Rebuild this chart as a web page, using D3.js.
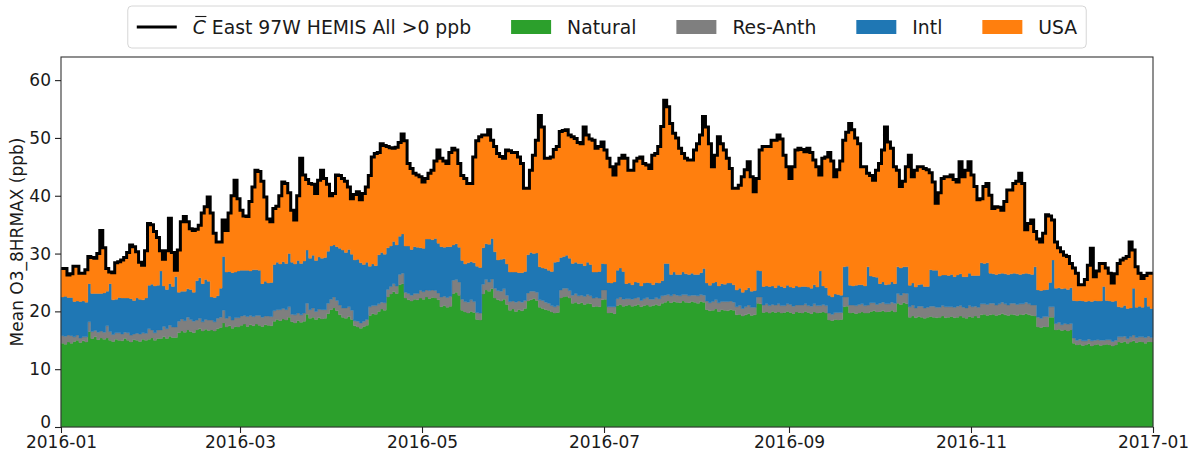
<!DOCTYPE html>
<html>
<head>
<meta charset="utf-8">
<script src="https://cdn.jsdelivr.net/npm/d3@7"></script>
<style>
  body { margin: 0; background: #fff; }
  svg { display: block; }
  text { font-family: "DejaVu Sans", sans-serif; fill: #1a1a1a; }
</style>
</head>
<body>
<svg id="chart" width="1194" height="453"></svg>
<script>
// Daily mean O3 8-hr max for 2016 (366 days starting 2016-01-01), ppb
const startDay = "2016-01-01";
const endDay = "2017-01-01";

// Total modelled concentration (black line)
const total = [
27.4,27.4,26.3,26.5,27.8,27.8,26.6,26.6,27.2,29.5,
29.3,29.2,30.0,34.0,31.0,27.4,26.8,26.7,28.4,28.6,
28.9,29.3,30.2,31.5,31.2,30.3,28.5,28.0,30.5,35.2,
35.0,33.8,32.8,30.5,29.0,30.5,36.1,30.2,27.1,30.6,
35.5,36.4,35.5,34.3,34.0,34.2,34.9,37.0,38.1,39.8,
37.0,33.5,32.0,32.0,35.8,34.0,37.0,40.0,42.7,39.5,
37.5,36.5,36.4,39.0,41.5,44.4,44.2,42.5,39.8,36.0,
35.5,37.8,38.2,40.0,42.4,42.1,40.5,37.5,35.8,40.0,
46.5,43.6,42.8,42.1,42.0,40.4,42.7,44.4,43.0,42.0,
40.0,40.4,43.6,43.5,43.0,42.5,41.5,39.5,40.2,40.7,
39.3,40.4,41.5,43.5,46.7,47.3,47.5,49.0,48.7,48.5,
48.3,48.2,48.4,49.2,50.7,49.5,45.6,44.7,43.9,43.6,
43.3,42.4,43.0,43.9,44.4,46.0,47.9,46.5,46.0,45.6,
47.5,48.2,47.9,45.6,43.5,43.0,42.1,42.1,46.7,49.5,
50.2,50.5,50.5,51.4,49.6,48.5,47.3,46.8,46.5,47.9,
47.8,47.5,47.5,46.7,45.6,41.3,41.3,44.4,47.0,49.6,
53.9,51.9,46.5,46.5,46.7,48.0,48.5,51.1,51.3,51.4,
50.5,50.2,49.9,49.2,49.0,51.9,50.5,49.8,49.6,48.2,
48.5,49.3,47.9,46.5,45.0,43.6,45.5,46.5,47.0,46.5,
44.4,44.4,46.0,46.5,46.7,45.6,45.3,44.7,47.0,47.3,
48.5,52.0,56.5,55.4,52.5,50.8,50.0,48.2,47.3,46.5,
46.2,46.2,47.9,49.0,50.5,53.7,51.9,49.0,45.0,47.0,
50.2,49.0,47.9,46.5,44.7,41.3,41.3,41.8,43.3,44.5,
45.9,43.3,40.7,43.0,47.9,48.5,48.5,48.5,49.6,49.6,
50.5,49.8,47.0,45.0,43.0,45.0,47.9,48.2,48.0,47.6,
48.2,47.5,46.2,45.0,43.6,46.5,46.7,47.5,46.0,43.3,
44.5,46.0,49.6,51.0,52.5,51.4,50.0,49.0,45.0,45.0,
43.9,43.5,42.7,44.4,45.6,47.9,51.9,49.3,48.2,45.0,
44.4,41.6,42.5,45.0,47.0,43.3,44.4,45.0,45.0,44.7,
44.5,44.0,42.4,38.7,40.5,43.0,43.3,43.3,43.6,42.8,
42.4,45.9,43.3,44.4,45.9,43.6,41.6,39.3,39.5,41.6,
42.1,40.1,37.8,38.1,38.0,37.5,39.0,41.0,41.0,42.1,
42.5,43.9,42.1,34.1,35.2,35.8,33.8,32.5,32.0,33.5,
36.7,36.5,35.8,32.0,31.0,30.3,29.7,29.5,28.3,27.5,
26.6,24.6,24.6,25.5,28.0,30.9,26.0,27.0,28.3,28.3,
27.5,26.6,24.9,26.5,28.3,28.9,29.2,29.5,32.0,30.6,
27.7,26.6,25.7,26.2,26.6,26.6
];

// Natural contribution
const natural = [
14.5,14.3,14.7,14.5,14.8,15.0,14.6,14.9,14.7,16.5,
15.3,15.6,15.1,15.4,15.2,15.4,15.0,14.8,15.2,15.0,
14.9,15.3,15.0,14.7,15.1,15.0,14.8,15.2,15.0,15.2,
15.4,15.0,15.3,15.3,15.6,15.3,15.7,15.5,15.5,16.3,
16.6,16.4,16.8,16.5,16.3,16.8,17.0,16.6,16.9,16.7,
16.8,16.6,17.0,17.2,18.0,17.3,17.5,17.1,17.4,17.3,
17.6,17.8,17.4,17.7,17.5,17.8,17.6,17.4,17.7,17.6,
17.5,18.3,18.6,18.4,18.7,18.5,19.0,18.2,18.0,18.4,
18.1,18.3,19.5,18.8,19.0,18.6,18.9,18.7,18.8,19.6,
20.3,20.6,20.1,19.4,19.0,18.8,19.1,18.6,17.5,17.3,
17.1,17.4,17.6,19.3,19.6,19.5,20.0,20.4,20.2,22.5,
23.0,23.4,23.1,24.6,24.8,22.3,22.0,21.8,22.1,22.0,
22.3,22.1,22.5,22.2,22.4,22.3,22.0,20.8,21.0,20.7,
20.9,23.1,23.3,22.8,20.2,19.9,19.7,20.0,19.8,18.6,
18.5,23.0,23.7,23.5,23.9,22.3,22.0,21.8,22.1,21.2,
20.2,20.4,20.0,20.3,20.1,20.5,21.8,22.0,22.2,21.9,
20.7,20.5,20.3,20.2,19.9,19.7,19.8,22.3,22.5,22.6,
22.3,21.4,21.6,21.3,21.5,21.2,21.4,21.3,20.8,20.9,
20.8,22.0,22.1,19.7,19.8,19.6,21.0,21.2,20.9,21.0,
21.1,20.9,21.0,21.2,20.8,21.0,21.1,20.9,21.0,21.2,
21.0,21.4,21.6,21.8,21.5,21.7,21.6,21.5,21.8,21.6,
21.5,21.7,21.6,21.4,21.7,21.6,20.3,20.1,20.2,20.4,
20.0,20.3,20.2,20.1,20.3,20.2,19.4,19.5,19.2,19.4,
19.6,19.3,19.4,21.4,21.3,19.8,19.9,19.7,20.0,19.8,
19.9,19.7,19.8,20.0,19.8,19.6,19.9,19.8,19.7,20.0,
19.8,19.6,19.9,19.7,19.8,19.9,19.7,18.5,18.4,18.6,
18.5,18.6,20.8,20.9,19.7,19.8,19.6,19.7,19.9,19.7,
19.7,20.0,20.1,19.9,20.0,20.1,19.9,20.0,20.2,19.9,
21.4,21.2,21.5,21.3,19.0,19.2,18.9,19.1,19.0,18.8,
19.0,19.1,19.0,18.9,19.0,19.2,18.9,19.0,19.1,18.9,
19.0,19.2,19.0,18.8,19.1,19.0,19.2,18.9,19.4,19.5,
19.3,19.4,19.5,19.3,19.4,19.6,19.4,19.3,19.5,19.4,
19.3,19.5,19.4,19.6,19.4,19.3,19.2,17.3,17.2,17.4,
17.3,19.0,19.0,16.8,16.9,16.7,16.8,16.6,16.8,14.5,
14.2,14.3,14.1,14.2,14.4,14.0,14.2,14.3,14.1,14.2,
14.3,14.2,14.0,14.2,14.7,14.6,14.8,14.5,14.7,14.9,
14.6,14.8,14.7,14.5,14.8,14.7
];

// Residual anthropogenic contribution
const resAnth = [
1.3,1.4,1.2,1.3,0.8,0.9,0.8,0.7,0.9,1.7,
1.2,1.1,1.3,1.2,1.2,2.1,1.5,1.2,1.1,1.3,
1.2,1.1,1.3,1.2,1.0,1.2,1.3,1.1,1.2,1.8,
1.4,1.3,1.5,1.5,1.8,1.7,1.9,1.8,1.8,2.0,
2.1,2.0,2.2,2.1,2.0,1.7,1.8,1.6,1.7,1.8,
1.7,1.6,1.8,1.8,2.2,1.5,1.6,1.4,1.5,1.6,
1.6,1.5,1.7,1.6,1.6,1.5,1.7,1.6,1.5,1.6,
1.6,1.8,1.7,1.9,1.8,1.8,1.8,1.3,1.4,1.3,
1.3,1.4,1.9,1.5,1.6,1.4,1.5,1.6,1.5,1.8,
1.8,1.9,1.8,1.7,1.6,1.8,1.7,1.6,0.9,1.0,
0.9,0.9,1.0,1.5,1.4,1.5,1.3,1.2,1.3,1.3,
1.3,1.4,1.3,1.8,1.8,1.0,1.1,1.0,1.0,1.1,
1.3,1.3,1.2,1.4,1.3,1.3,1.2,1.7,1.6,1.7,
1.7,2.3,2.2,2.3,1.9,1.8,1.9,2.0,1.9,1.2,
1.2,1.7,1.8,1.6,1.7,1.7,1.6,1.7,1.8,1.6,
1.5,1.4,1.6,1.5,1.5,1.4,1.4,1.5,1.3,1.4,
1.3,1.4,1.3,1.2,1.1,1.1,1.2,1.4,1.5,1.4,
1.3,1.4,1.5,1.4,1.3,1.4,1.5,1.4,1.5,1.5,
1.5,1.7,1.6,1.1,1.0,1.2,1.2,1.3,1.2,1.2,
1.1,1.2,1.3,1.2,1.1,1.2,1.3,1.2,1.1,1.2,
1.2,1.3,1.2,1.1,1.2,1.3,1.2,1.2,1.1,1.3,
1.2,1.1,1.2,1.3,1.2,1.2,1.5,1.4,1.5,1.6,
1.5,1.4,1.5,1.6,1.5,1.4,1.4,1.5,1.3,1.4,
1.5,1.4,1.3,1.1,1.2,1.3,1.4,1.3,1.2,1.3,
1.4,1.3,1.2,1.3,1.4,1.3,1.2,1.3,1.4,1.3,
1.2,1.3,1.4,1.3,1.2,1.3,1.3,1.2,1.1,1.2,
1.3,1.2,1.7,1.6,1.4,1.3,1.4,1.5,1.4,1.3,
1.4,1.5,1.4,1.3,1.4,1.5,1.4,1.3,1.4,1.5,
1.7,1.6,1.7,1.8,1.8,1.9,1.7,1.8,1.9,1.8,
1.7,1.8,1.9,1.8,1.7,1.8,1.9,1.8,1.7,1.8,
1.9,1.8,1.7,1.8,1.9,1.8,1.7,1.8,1.9,1.8,
1.9,2.0,1.9,1.8,1.9,2.0,1.9,1.8,1.9,2.0,
1.9,1.8,1.9,2.0,1.9,1.8,1.9,1.7,1.6,1.7,
1.8,1.8,1.8,1.1,1.2,1.0,1.1,1.2,1.1,0.9,
0.8,0.9,0.8,0.7,0.8,0.9,0.8,0.8,0.9,0.8,
0.8,0.9,0.8,0.8,0.9,1.0,0.9,0.8,0.9,1.0,
0.9,0.8,0.9,1.0,0.9,0.8
];

// International contribution
const intl = [
6.7,6.9,6.5,6.6,6.1,5.9,6.3,6.2,6.0,6.6,
6.6,6.4,6.7,6.5,6.8,6.0,8.3,6.0,5.8,6.1,
6.2,5.9,6.0,6.3,5.8,6.1,6.0,5.7,6.1,7.5,
7.9,8.1,7.7,10.2,7.0,6.8,7.2,7.0,8.7,5.0,
4.8,5.1,4.9,5.2,5.0,6.8,7.0,6.6,6.9,6.7,
4.0,4.2,3.9,5.0,9.3,8.0,7.8,8.2,7.9,8.1,
7.9,7.8,8.0,7.7,8.1,7.9,7.8,5.8,6.0,5.7,
5.9,8.0,8.2,7.9,8.1,8.0,9.2,9.0,8.8,9.1,
8.9,9.0,9.2,8.9,9.1,8.8,9.0,8.9,9.0,9.0,
9.2,9.0,9.3,9.8,10.0,9.6,9.9,9.7,10.5,10.7,
10.4,9.8,9.9,7.0,7.2,6.9,8.5,8.6,8.4,7.2,
7.0,7.3,7.1,6.6,6.8,8.0,8.2,7.9,8.1,8.0,
7.4,7.5,8.8,8.9,8.7,9.0,8.6,8.7,8.5,8.8,
8.6,6.1,6.2,6.0,6.7,6.5,6.8,6.6,6.7,8.0,
7.9,6.3,6.2,6.5,7.0,6.3,5.3,5.5,5.2,5.4,
5.1,5.0,5.2,4.9,5.1,5.0,6.6,6.7,6.5,6.8,
5.7,5.6,5.8,5.7,5.9,7.7,7.6,5.6,5.5,5.7,
5.6,5.5,5.4,5.6,5.5,5.3,5.6,5.4,4.5,4.4,
4.6,4.6,4.5,4.2,4.1,4.3,4.9,5.0,4.8,2.6,
2.7,2.5,2.8,2.6,2.5,2.7,2.6,2.8,2.5,2.6,
2.7,2.6,5.5,5.4,3.7,3.8,3.6,3.7,3.9,3.6,
3.7,3.8,3.6,3.7,3.8,4.6,3.1,3.0,3.2,3.1,
2.9,3.1,3.0,3.2,3.1,3.0,2.9,3.0,2.8,2.9,
3.0,2.8,2.9,4.6,4.5,3.2,3.1,3.3,3.2,3.0,
3.2,3.3,3.1,3.2,3.0,3.2,3.3,3.1,3.2,3.0,
3.2,3.1,3.3,3.2,6.0,3.2,3.1,3.1,3.0,3.2,
3.1,3.0,5.2,5.3,3.4,3.3,3.5,3.4,3.3,3.4,
6.6,4.6,4.5,4.7,3.4,3.5,3.3,3.4,3.5,3.4,
4.6,4.7,4.5,4.6,3.7,3.8,3.6,3.7,3.8,3.7,
3.6,6.3,6.2,6.4,5.4,5.3,5.5,5.4,5.6,5.3,
5.4,5.5,5.3,5.4,5.6,5.4,5.3,5.5,7.1,7.0,
7.2,5.2,5.1,5.3,5.2,5.0,5.2,5.3,5.1,5.2,
5.3,5.1,5.2,5.0,5.2,5.3,6.6,4.7,4.8,4.6,
4.7,4.2,8.1,6.1,6.0,6.2,6.1,6.0,6.2,6.5,
6.8,6.7,6.9,6.8,6.6,6.8,6.9,6.7,6.8,9.3,
6.8,6.7,6.9,6.8,5.2,5.1,5.3,5.2,5.0,8.1,
5.2,5.3,5.1,6.9,5.2,5.0
];

const seriesNames = ["Natural", "Res-Anth", "Intl", "USA"];
const seriesColors = ["#2ca02c", "#7f7f7f", "#1f77b4", "#ff7f0e"];
const lineLabel = "East 97W HEMIS All >0 ppb";
const yLabel = "Mean O3_8HRMAX (ppb)";
const yTicks = [0, 10, 20, 30, 40, 50, 60];
const xTickLabels = ["2016-01", "2016-03", "2016-05", "2016-07", "2016-09", "2016-11", "2017-01"];

// ---- layout ----
const W = 1194, H = 453;
const margin = { left: 61, right: 41, top: 57, bottom: 26 };
const plotW = W - margin.left - margin.right;
const plotH = H - margin.top - margin.bottom;

const svg = d3.select("#chart");
const parseDay = d3.utcParse("%Y-%m-%d");
const parseMonth = d3.utcParse("%Y-%m");
const t0 = parseDay(startDay), t1 = parseDay(endDay);

// USA is what remains of the total after the other three sources
const rows = total.map((v, i) => ({
  date: d3.utcDay.offset(t0, i),
  total: v,
  "Natural": natural[i],
  "Res-Anth": resAnth[i],
  "Intl": intl[i],
  "USA": Math.max(0, v - natural[i] - resAnth[i] - intl[i])
}));
// closing step so the last day spans to the end of the axis
const last = rows[rows.length - 1];
const stepRows = rows.concat([Object.assign({}, last, { date: t1 })]);

const x = d3.scaleUtc().domain([t0, t1]).range([margin.left, margin.left + plotW]);
const y = d3.scaleLinear().domain([0, 64]).range([margin.top + plotH, margin.top]);

const stacked = d3.stack().keys(seriesNames)(stepRows);

const area = d3.area()
  .curve(d3.curveStepAfter)
  .x(d => x(d.data.date))
  .y0(d => y(d[0]))
  .y1(d => y(d[1]));

const plot = svg.append("g");
plot.selectAll("path.layer")
  .data(stacked)
  .join("path")
  .attr("class", "layer")
  .attr("fill", (d, i) => seriesColors[i])
  .attr("stroke", (d, i) => seriesColors[i])
  .attr("stroke-width", 0.4)
  .attr("d", area);

const line = d3.line()
  .curve(d3.curveStepAfter)
  .x(d => x(d.date))
  .y(d => y(d.total));

plot.append("path")
  .datum(stepRows)
  .attr("fill", "none")
  .attr("stroke", "#000")
  .attr("stroke-width", 3)
  .attr("stroke-linejoin", "miter")
  .attr("d", line);

// frame
svg.append("rect")
  .attr("x", margin.left).attr("y", margin.top)
  .attr("width", plotW).attr("height", plotH)
  .attr("fill", "none").attr("stroke", "#333").attr("stroke-width", 1.1);

// axes
const yAxis = svg.append("g")
  .attr("transform", `translate(${margin.left},0)`)
  .call(d3.axisLeft(y).tickValues(yTicks).tickSize(6).tickPadding(4).tickFormat(d3.format("d")));
const xAxis = svg.append("g")
  .attr("transform", `translate(0,${margin.top + plotH})`)
  .call(d3.axisBottom(x).tickValues(xTickLabels.map(parseMonth)).tickSize(6).tickPadding(3)
    .tickFormat(d3.utcFormat("%Y-%m")));
[yAxis, xAxis].forEach(g => {
  g.select(".domain").remove();
  g.selectAll(".tick line").attr("stroke", "#222").attr("stroke-width", 1.1);
  g.selectAll(".tick text").attr("font-size", 17).attr("fill", "#1a1a1a")
    .attr("font-family", '"DejaVu Sans", sans-serif');
});
// the bottom "0" sits just above the first date label
yAxis.selectAll(".tick text").filter(d => d === 0).attr("dy", "0.05em");

svg.append("text")
  .attr("transform", `translate(23,${margin.top + plotH / 2}) rotate(-90)`)
  .attr("text-anchor", "middle")
  .attr("font-size", 17)
  .text(yLabel);

// ---- legend (centred over the axes) ----
const legFont = 18.8;
const legCY = 27;
const leg = svg.append("g");
const legBox = leg.append("rect");
const items = leg.append("g");
let cx = 0;
const handleW = 40, handleGap = 16, colGap = 40, legPad = 9;
const legendItems = [{ kind: "line" }].concat(seriesNames.map((n, i) => ({ kind: "patch", name: n, color: seriesColors[i] })));
legendItems.forEach(item => {
  if (item.kind === "line") {
    items.append("line")
      .attr("x1", cx).attr("x2", cx + handleW)
      .attr("y1", legCY).attr("y2", legCY)
      .attr("stroke", "#000").attr("stroke-width", 3);
  } else {
    items.append("rect")
      .attr("x", cx).attr("y", legCY - 7)
      .attr("width", handleW).attr("height", 14)
      .attr("fill", item.color);
  }
  const tx = cx + handleW + handleGap;
  const txt = items.append("text")
    .attr("x", tx).attr("y", legCY + 6.5)
    .attr("font-size", legFont);
  if (item.kind === "line") {
    txt.append("tspan").attr("font-style", "italic").text("C");
    txt.append("tspan").text(" " + lineLabel);
    const cw = txt.node().getSubStringLength(0, 1);
    items.append("line")
      .attr("x1", tx + 2.5).attr("x2", tx + cw + 0.5)
      .attr("y1", legCY - 10.5).attr("y2", legCY - 10.5)
      .attr("stroke", "#1a1a1a").attr("stroke-width", 1.1);
  } else {
    txt.text(item.name);
  }
  cx = tx + txt.node().getComputedTextLength() + colGap;
});
const contentW = cx - colGap;
const boxW = contentW + 2 * legPad;
const boxX = margin.left + plotW / 2 - boxW / 2;
items.attr("transform", `translate(${boxX + legPad},0)`);
legBox
  .attr("x", boxX).attr("y", 6)
  .attr("width", boxW).attr("height", 42)
  .attr("rx", 4).attr("ry", 4)
  .attr("fill", "#fff").attr("fill-opacity", 0.85)
  .attr("stroke", "#d6d6d6").attr("stroke-width", 1);
</script>
</body>
</html>
